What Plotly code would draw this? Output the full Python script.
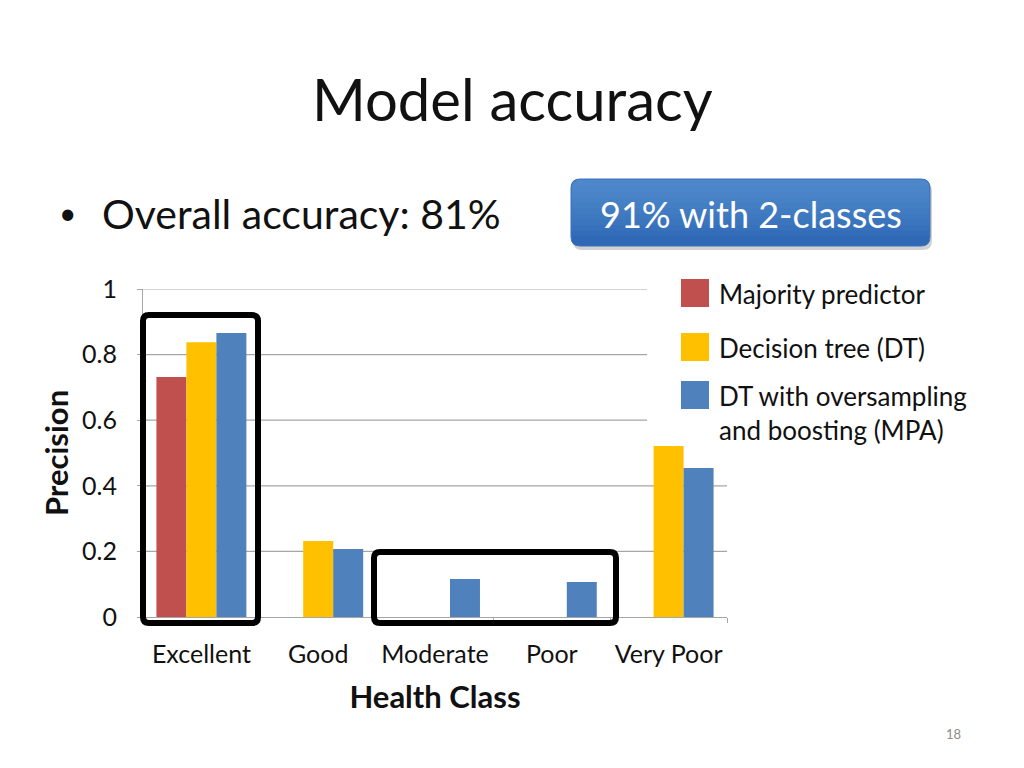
import plotly.graph_objects as go

# ── data ──
CATEGORIES = ["Excellent", "Good", "Moderate", "Poor", "Very Poor"]
MAJORITY = [0.732, 0, 0, 0, 0]
DECISION_TREE = [0.838, 0.232, 0, 0, 0.521]
MPA = [0.866, 0.207, 0.116, 0.107, 0.454]
Y_TICKS = [0, 0.2, 0.4, 0.6, 0.8, 1]
Y_TICK_TEXT = ["0", "0.2", "0.4", "0.6", "0.8", "1"]

SERIES = [
    ("Majority predictor", MAJORITY, "#C0504D"),
    ("Decision tree (DT)", DECISION_TREE, "#FFC000"),
    ("DT with oversampling<br>and boosting (MPA)", MPA, "#4F81BD"),
]

FONT = "Lato"
W, H = 1024, 768
OFF = 8                            # page body margin
L, R, T, B = 143, 727, 289, 617    # plot area in (screen) pixels


def px(x):
    return (x - L) / (R - L)


def py(y):
    return (B - y) / (B - T)


def rounded_path(x0, y0, x1, y1, r, rb=None):
    # rounded rectangle in pixel coords -> paper-coord svg path
    rb = r if rb is None else rb
    pts = [
        f"M {px(x0 + r)} {py(y0)}",
        f"L {px(x1 - r)} {py(y0)}",
        f"Q {px(x1)} {py(y0)} {px(x1)} {py(y0 + r)}",
        f"L {px(x1)} {py(y1 - rb)}",
        f"Q {px(x1)} {py(y1)} {px(x1 - rb)} {py(y1)}",
        f"L {px(x0 + rb)} {py(y1)}",
        f"Q {px(x0)} {py(y1)} {px(x0)} {py(y1 - rb)}",
        f"L {px(x0)} {py(y0 + r)}",
        f"Q {px(x0)} {py(y0)} {px(x0 + r)} {py(y0)}",
        "Z",
    ]
    return " ".join(pts)


fig = go.Figure()
for name, vals, color in SERIES:
    fig.add_trace(go.Bar(
        x=CATEGORIES, y=vals, name=name,
        marker=dict(color=color, line=dict(width=0)),
        showlegend=False,
    ))

shapes = []
# gridlines (upper ones stop where the legend begins)
for v in Y_TICKS[1:]:
    shapes.append(dict(
        type="line", xref="paper", yref="y", layer="below",
        x0=0, x1=1 if v < 0.5 else px(647), y0=v, y1=v,
        line=dict(color="#A6A6A6", width=1.2),
    ))

# highlight boxes
shapes.append(dict(type="path", xref="paper", yref="paper",
                   path=rounded_path(143, 315, 258, 623, 6),
                   line=dict(color="black", width=6)))
shapes.append(dict(type="path", xref="paper", yref="paper",
                   path=rounded_path(374, 552, 616, 623, 6),
                   line=dict(color="black", width=6)))

# callout box with shadow and a soft vertical gradient
shapes.append(dict(type="path", xref="paper", yref="paper",
                   path=rounded_path(573, 182, 932, 250, 9),
                   fillcolor="rgba(0,0,0,0.18)", line=dict(width=0)))
shapes.append(dict(type="path", xref="paper", yref="paper",
                   path=rounded_path(571, 179, 930, 246, 9),
                   fillcolor="#2F69B6", line=dict(color="#3A73BD", width=1)))
for i in range(10):
    bottom = 236 - i * 5.5
    shapes.append(dict(type="path", xref="paper", yref="paper",
                       path=rounded_path(571.5, 179.5, 929.5, bottom, 8.5, 0),
                       fillcolor="rgba(110,165,230,0.07)", line=dict(width=0)))

# custom legend squares
for (name, vals, color), yc in zip(SERIES, [293, 347, 395]):
    shapes.append(dict(type="rect", xref="paper", yref="paper",
                       x0=px(681), x1=px(709), y0=py(yc - 14), y1=py(yc + 14),
                       fillcolor=color, line=dict(width=0)))

annotations = [
    dict(text="Model accuracy", x=px(512), y=py(98), font=dict(size=58, color="#111")),
    dict(text="•", x=px(68), y=py(212), font=dict(size=30, color="#111")),
    dict(text="Overall accuracy: 81%", x=px(100), y=py(213), xanchor="left",
         font=dict(size=41, color="#111")),
    dict(text="91% with 2-classes", x=px(751), y=py(214), font=dict(size=36, color="white")),
    dict(text="Majority predictor", x=px(717), y=py(294), xanchor="left",
         font=dict(size=26, color="#111")),
    dict(text="Decision tree (DT)", x=px(717), y=py(348), xanchor="left",
         font=dict(size=26, color="#111")),
    dict(text="DT with oversampling<br>and boosting (MPA)", x=px(717), y=py(413),
         xanchor="left", align="left", font=dict(size=26, color="#111")),
    dict(text="18", x=px(953), y=py(734), font=dict(size=13, color="#8C8C8C")),
]
for a in annotations:
    a.update(xref="paper", yref="paper", showarrow=False)
    a.setdefault("xanchor", "center")
    a.setdefault("yanchor", "middle")

fig.update_layout(
    width=W, height=H,
    margin=dict(l=L - OFF, r=W - R + OFF, t=T - OFF, b=H - B + OFF, pad=0),
    paper_bgcolor="white", plot_bgcolor="white",
    font=dict(family=FONT, color="#111"),
    barmode="group", bargap=0.23, bargroupgap=0,
    shapes=shapes, annotations=annotations,
    xaxis=dict(
        showgrid=False, showline=True, linecolor="#A6A6A6", linewidth=1.2,
        ticks="outside", tickson="boundaries", ticklen=5, tickcolor="#A6A6A6",
        ticklabelstandoff=15, tickangle=0,
        tickfont=dict(size=25, color="#111"),
        title=dict(text="<b>Health Class</b>", font=dict(size=31, color="#111"), standoff=19),
    ),
    yaxis=dict(
        range=[0, 1], tickvals=Y_TICKS, ticktext=Y_TICK_TEXT,
        showgrid=False, zeroline=False, showline=True, linecolor="#A6A6A6", linewidth=1.2,
        ticks="outside", ticklen=5, tickcolor="#A6A6A6",
        ticklabelstandoff=15,
        tickfont=dict(size=25, color="#111"),
        title=dict(text="<b>Precision</b>", font=dict(size=31, color="#111"), standoff=4),
    ),
)

fig.write_html("out.html")
